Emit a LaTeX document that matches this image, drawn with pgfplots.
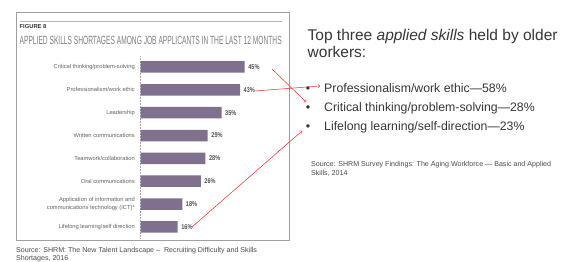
\documentclass[border=0pt]{standalone}
\usepackage{pgfplots}
\pgfplotsset{compat=1.18}
\usepackage{graphicx}
\usepackage{fontspec}
\setmainfont{Liberation Sans}
\newfontfamily\cond[FakeStretch=0.8]{Liberation Sans}
\definecolor{barcol}{RGB}{127,112,142}
\definecolor{boxcol}{RGB}{160,160,160}
\definecolor{linecol}{RGB}{185,175,200}
\definecolor{txtdark}{RGB}{55,55,55}
\definecolor{arrowred}{RGB}{240,40,40}
\begin{document}
\begin{tikzpicture}[x=1pt,y=1pt]
\path[use as bounding box,fill=white] (0,0) rectangle (562,262);
% figure box
\draw[boxcol,line width=0.8pt] (16,22) rectangle (289,249.3);
\draw[linecol,line width=0.6pt] (19.5,241) -- (282,241);
\node[anchor=west,inner sep=0pt,text=txtdark,font=\bfseries\fontsize{5.8}{6}\selectfont] at (19.5,235) {FIGURE 8};
\node[anchor=west,inner sep=0pt,text=black!50] at (19.5,222) {\resizebox{262pt}{8.3pt}{APPLIED SKILLS SHORTAGES AMONG JOB APPLICANTS IN THE LAST 12 MONTHS}};
\begin{axis}[
  at={(140.7pt,23.6pt)}, anchor=south west,
  scale only axis, width=115.5pt, height=182.9pt,
  xbar, bar width=11.5pt,
  xmin=0, xmax=50, ymin=-0.5, ymax=7.5,
  axis x line=none,
  axis y line*=left,
  y axis line style={densely dotted, black!35, line width=0.5pt, -},
  ytick={0,...,7},
  yticklabels={Lifelong learning/self direction,{Application of information and\\communications technology (ICT)*},Oral communications,Teamwork/collaboration,Written communications,Leadership,Professionalism/work ethic,Critical thinking/problem-solving},
  yticklabel style={font=\fontsize{5.75}{7.3}\selectfont, text=black!62, align=right, inner sep=0pt, xshift=-5.7pt},
  major tick length=0pt,
  /pgf/number format/assume math mode=true,
  nodes near coords={\pgfmathprintnumber{\pgfplotspointmeta}\%},
  nodes near coords style={font=\cond\bfseries\fontsize{7}{8}\selectfont, text=black!68, anchor=west, inner sep=0pt, xshift=3.5pt},
  point meta=x,
  clip=false,
]
\addplot[fill=barcol, draw=none] coordinates {(16,0) (18,1) (26,2) (28,3) (29,4) (35,5) (43,6) (45,7)};
\end{axis}
% left source
\node[anchor=base west,inner sep=0pt,text=black!70,font=\fontsize{7.1}{8}\selectfont] at (16,9.6) {Source: SHRM: The New Talent Landscape --\ \ Recruiting Difficulty and Skills};
\node[anchor=base west,inner sep=0pt,text=black!70,font=\fontsize{7.1}{8}\selectfont] at (16,1.4) {Shortages, 2016};
% right text
\node[anchor=base west,inner sep=0pt,text=txtdark,font=\fontsize{15.5}{16}\selectfont] at (307.5,221) {Top three \textit{applied skills} held by older};
\node[anchor=base west,inner sep=0pt,text=txtdark,font=\fontsize{15.5}{16}\selectfont] at (307.5,204.5) {workers:};
\foreach \yy/\tx in {169.6/{Professionalism/work ethic---58\%},150.6/{Critical thinking/problem-solving---28\%},131.6/{Lifelong learning/self-direction---23\%}}{
  \node[anchor=base,inner sep=0pt,text=txtdark,font=\fontsize{12.3}{13}\selectfont] at (308,\yy) {\textbullet};
  \node[anchor=base west,inner sep=0pt,text=txtdark,font=\fontsize{12.3}{13}\selectfont] at (324,\yy) {\tx};
}
\node[anchor=base west,inner sep=0pt,text=black!70,font=\fontsize{7.1}{8}\selectfont] at (311,95.5) {Source: SHRM Survey Findings: The Aging Workforce --- Basic and Applied};
\node[anchor=base west,inner sep=0pt,text=black!70,font=\fontsize{7.1}{8}\selectfont] at (311,86.5) {Skills, 2014};
% arrows
\draw[arrowred,line width=0.5pt,->] (272,193) -- (306,160);
\draw[arrowred,line width=0.5pt,->] (255,171) -- (320,176);
\draw[arrowred,line width=0.5pt,->] (192,35) -- (302,131);
\end{tikzpicture}
\end{document}
